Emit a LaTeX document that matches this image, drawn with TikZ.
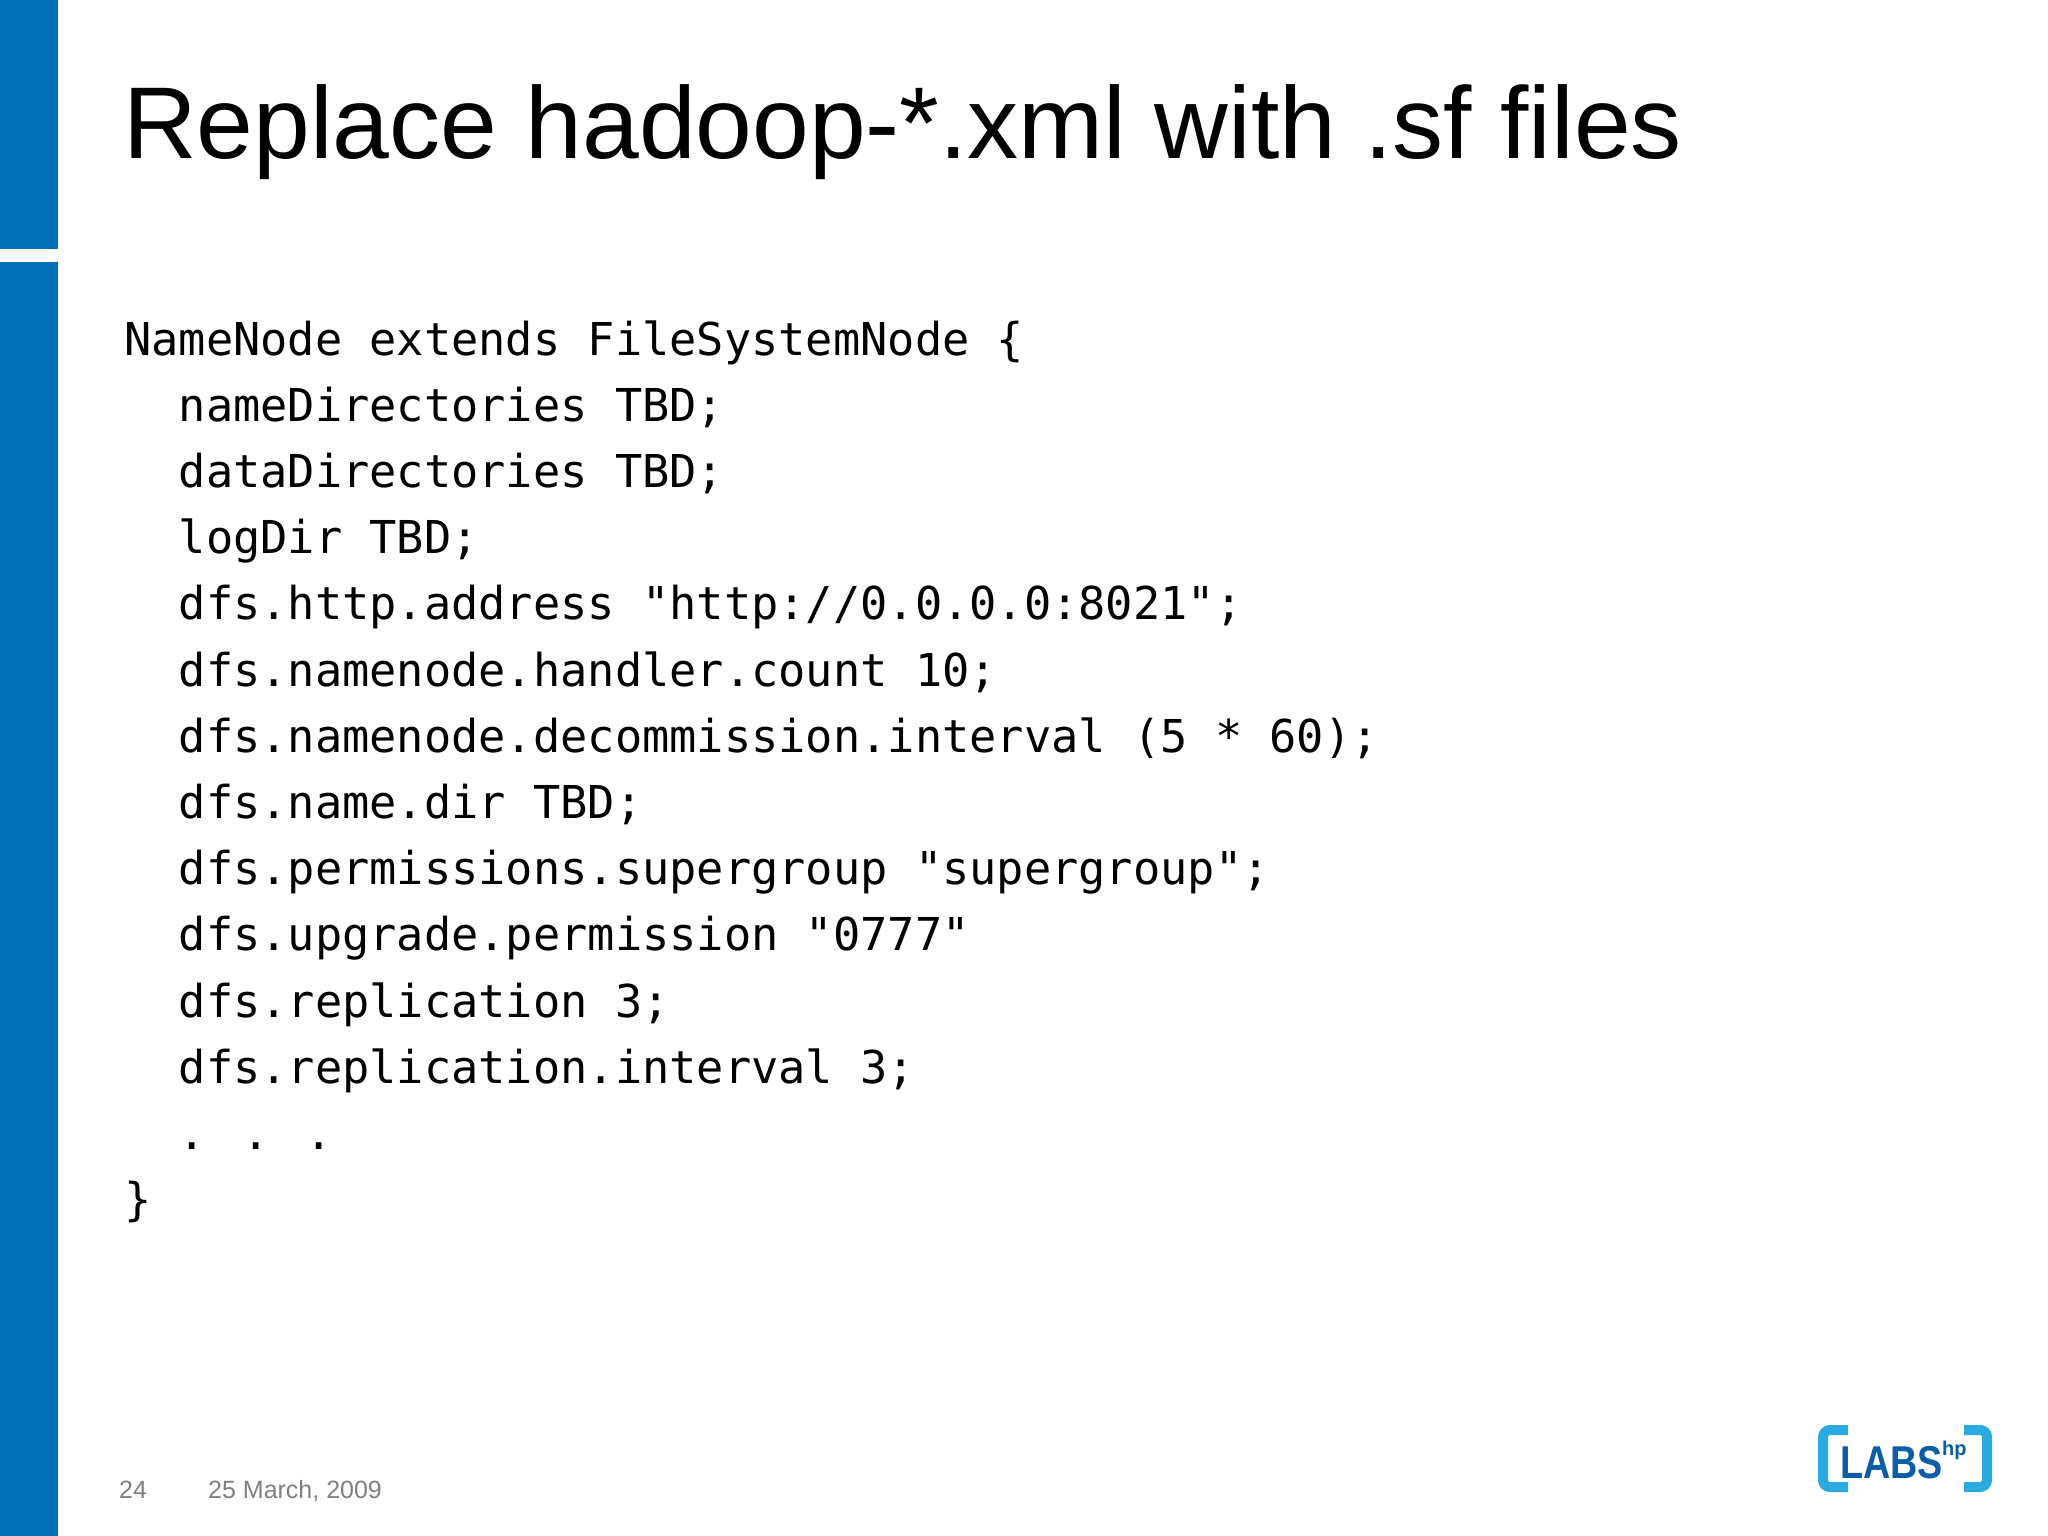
\documentclass[tikz,border=0pt]{standalone}
\usepackage{fontspec}
\setmainfont{Liberation Sans}
\newfontfamily\codefont{DejaVu Sans Mono}
\definecolor{hpblue}{HTML}{0070B5}
\definecolor{labcyan}{HTML}{2AAAE0}
\definecolor{labdark}{HTML}{0B5DA8}
\begin{document}
\begin{tikzpicture}[x=1pt,y=-1pt,
  codeline/.style={anchor=base west,inner sep=0pt,font=\codefont\fontsize{45.3}{50}\selectfont},
  foot/.style={anchor=base west,inner sep=0pt,text=gray,font=\fontsize{25}{28}\selectfont}]
\useasboundingbox (0,0) rectangle (2048,1536);
\fill[white] (0,0) rectangle (2048,1536);
\fill[hpblue] (0,0) rectangle (58,249);
\fill[hpblue] (0,262) rectangle (58,1536);
\node[anchor=base west,inner sep=0pt,font=\fontsize{102}{112}\selectfont] (title) at (123,159) {Replace hadoop-*.xml with .sf files};
\foreach \t [count=\i from 0] in {%
 {NameNode extends FileSystemNode \{},
 {\ \ nameDirectories TBD;},
 {\ \ dataDirectories TBD;},
 {\ \ logDir TBD;},
 {\ \ dfs.http.address "http://0.0.0.0:8021";},
 {\ \ dfs.namenode.handler.count 10;},
 {\ \ dfs.namenode.decommission.interval (5 * 60);},
 {\ \ dfs.name.dir TBD;},
 {\ \ dfs.permissions.supergroup "supergroup";},
 {\ \ dfs.upgrade.permission "0777"},
 {\ \ dfs.replication 3;},
 {\ \ dfs.replication.interval 3;},
 {\ \ . . .},
 {\}}}
 \node[codeline] (l\i) at (124,355+66.2*\i) {\t};
\node[foot] (pg) at (119,1498) {24};
\node[foot] (date) at (208,1498) {25 March, 2009};
% logo
\draw[labcyan,line width=10pt,rounded corners=7pt] (1848,1430) -- (1823,1430) -- (1823,1487) -- (1848,1487);
\draw[labcyan,line width=10pt,rounded corners=7pt] (1964,1430) -- (1987,1430) -- (1987,1487) -- (1964,1487);
\node[anchor=base west,inner sep=0pt,text=labdark,font=\bfseries\fontsize{46}{48}\selectfont,xscale=0.82] (labs) at (1840,1478) {LABS};
\node[anchor=base west,inner sep=0pt,text=labdark,font=\bfseries\fontsize{20}{24}\selectfont] (hp) at (1942,1455) {hp};
\end{tikzpicture}
\end{document}
